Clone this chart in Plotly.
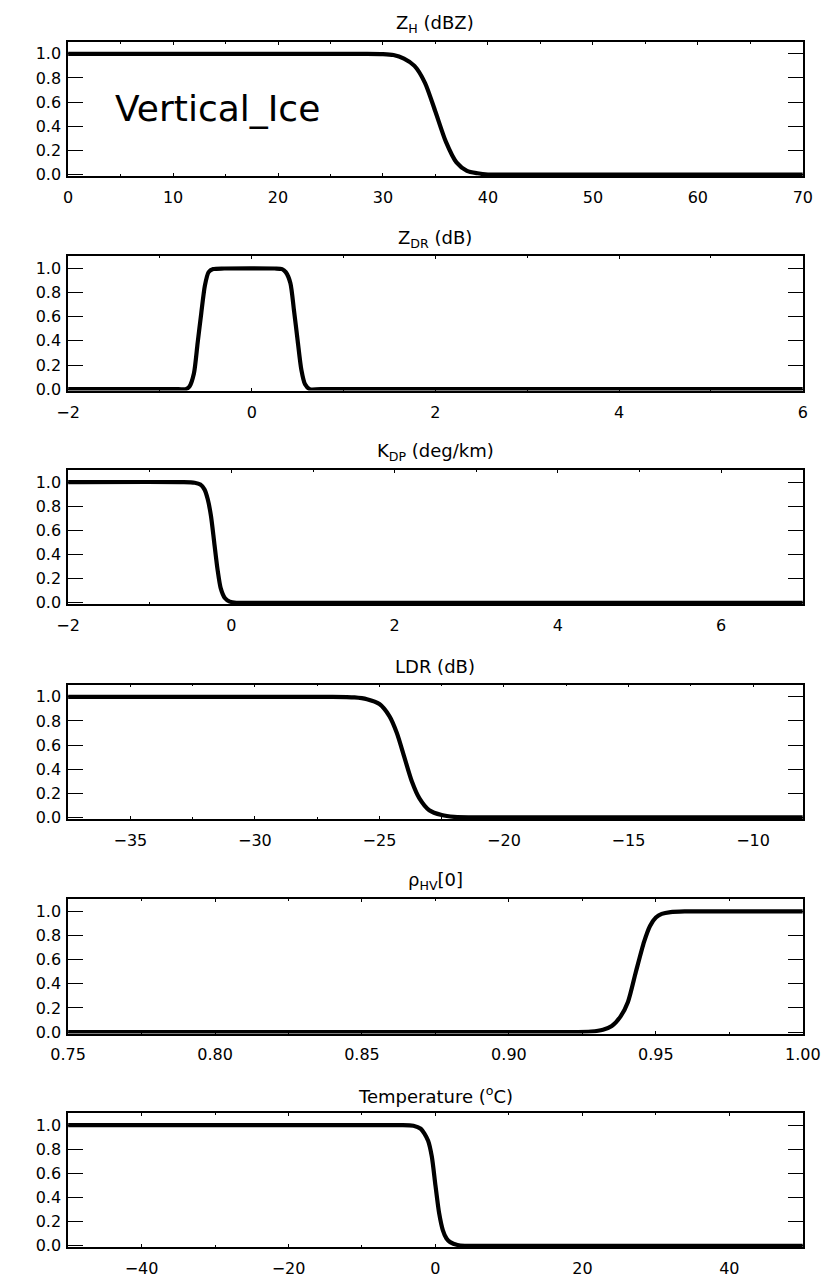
import plotly.graph_objects as go

# ---------------- data ----------------
zh_x = [0, 28, 30, 31, 32, 33, 34, 35, 36, 37, 38, 39, 40, 42, 70]
zh_y = [1, 1, 0.998, 0.99, 0.96, 0.9, 0.76, 0.52, 0.27, 0.1, 0.03, 0.01, 0.0, 0.0, 0.0]

zdr_x = [-2, -0.8, -0.72, -0.68, -0.63, -0.59, -0.55, -0.51, -0.47, -0.42, -0.3, 0.25, 0.33, 0.37,
         0.42, 0.46, 0.50, 0.54, 0.58, 0.63, 0.75, 6]
zdr_y = [0, 0, 0.0, 0.02, 0.13, 0.38, 0.63, 0.86, 0.97, 0.995, 1, 1, 0.995, 0.97,
         0.88, 0.65, 0.4, 0.16, 0.04, 0.0, 0, 0]

kdp_x = [-2, -0.6, -0.45, -0.38, -0.33, -0.29, -0.25, -0.21, -0.17, -0.13, -0.08, -0.02, 0.06, 0.3, 7]
kdp_y = [1, 1, 0.995, 0.98, 0.94, 0.86, 0.72, 0.5, 0.28, 0.12, 0.04, 0.01, 0.0, 0, 0]

ldr_x = [-37.5, -27, -26, -25.5, -25, -24.6, -24.3, -24, -23.7, -23.4, -23, -22.5, -22, -21, -8]
ldr_y = [1, 1, 0.995, 0.98, 0.94, 0.84, 0.7, 0.5, 0.3, 0.16, 0.06, 0.02, 0.005, 0, 0]

rho_x = [0.75, 0.92, 0.928, 0.932, 0.935, 0.938, 0.9405, 0.9432, 0.946, 0.948, 0.950, 0.952,
         0.955, 0.96, 1.0]
rho_y = [0, 0, 0.005, 0.02, 0.05, 0.13, 0.25, 0.5, 0.75, 0.88, 0.95, 0.98, 0.995, 1, 1]

tmp_x = [-50, -5, -3, -2, -1.5, -1, -0.5, 0, 0.5, 1, 1.5, 2, 3, 4, 6, 50]
tmp_y = [1, 1, 0.995, 0.97, 0.93, 0.87, 0.74, 0.5, 0.27, 0.13, 0.06, 0.03, 0.006, 0, 0, 0]

titles = ["Z<sub>H</sub> (dBZ)", "Z<sub>DR</sub> (dB)", "K<sub>DP</sub> (deg/km)",
          "LDR (dB)", "\u03c1<sub>HV</sub>[0]", "Temperature (<sup>o</sup>C)"]
xranges = [[0, 70], [-2, 6], [-2, 7], [-37.5, -8], [0.75, 1.0], [-50, 50]]
xdticks = [10, 2, 2, 5, 0.05, 20]
xminor = [5, 1, 1, 2.5, 0.025, 10]
xformats = ["d", "d", "d", "d", ".2f", "d"]
xtick0 = [0, -2, -2, -35, 0.75, -40]
yticks = [0, 0.2, 0.4, 0.6, 0.8, 1.0]
label = "Vertical_Ice"

series = [(zh_x, zh_y), (zdr_x, zdr_y), (kdp_x, kdp_y),
          (ldr_x, ldr_y), (rho_x, rho_y), (tmp_x, tmp_y)]

# ---------------- layout geometry ----------------
W, H = 831, 1277
left_px, right_px = 44, 812
tops = [34, 250, 465, 681, 897, 1112]
ph = 135

fig = go.Figure()
font_family = "DejaVu Sans"
annotations = []

for i, ((xs, ys), title) in enumerate(zip(series, titles)):
    n = "" if i == 0 else str(i + 1)
    fig.add_trace(go.Scatter(
        x=xs, y=ys, mode="lines",
        line=dict(color="black", width=4.2, shape="spline", smoothing=0.7),
        xaxis="x" + n, yaxis="y" + n, showlegend=False, hoverinfo="skip"))
    top = tops[i]
    y0 = 1 - (top + ph) / H
    y1 = 1 - top / H
    common = dict(showline=True, linecolor="black", linewidth=1.5, mirror="allticks",
                  showgrid=False, zeroline=False, ticks="inside", tickcolor="black",
                  tickfont=dict(family=font_family, size=16, color="black"))
    fig.layout["xaxis" + n] = dict(
        domain=[left_px / W, right_px / W], anchor="y" + n,
        range=xranges[i], tick0=xtick0[i], dtick=xdticks[i], tickformat=xformats[i],
        ticklen=3, tickwidth=1, ticklabelstandoff=6,
        minor=dict(dtick=xminor[i], ticks="inside", ticklen=2, tickcolor="black", tickwidth=1),
        **common)
    fig.layout["yaxis" + n] = dict(
        domain=[y0, y1], anchor="x" + n,
        range=[-0.012, 1.1], tickvals=yticks, tickformat=".1f",
        ticklen=15, tickwidth=1.3, ticklabelstandoff=2,
        **common)
    annotations.append(dict(
        text=title, xref="paper", yref="paper",
        x=(left_px + right_px) / 2 / W, y=1 - (top - 18) / H,
        xanchor="center", yanchor="middle", showarrow=False,
        font=dict(family=font_family, size=18, color="black")))

annotations.append(dict(
    text=label, xref="x", yref="y", x=14.2, y=0.55,
    xanchor="center", yanchor="middle", showarrow=False,
    font=dict(family=font_family, size=36, color="black")))

fig.update_layout(
    width=W, height=H,
    margin=dict(l=0, r=0, t=0, b=0),
    paper_bgcolor="white", plot_bgcolor="white",
    annotations=annotations,
    showlegend=False)

fig.write_html("out.html")
